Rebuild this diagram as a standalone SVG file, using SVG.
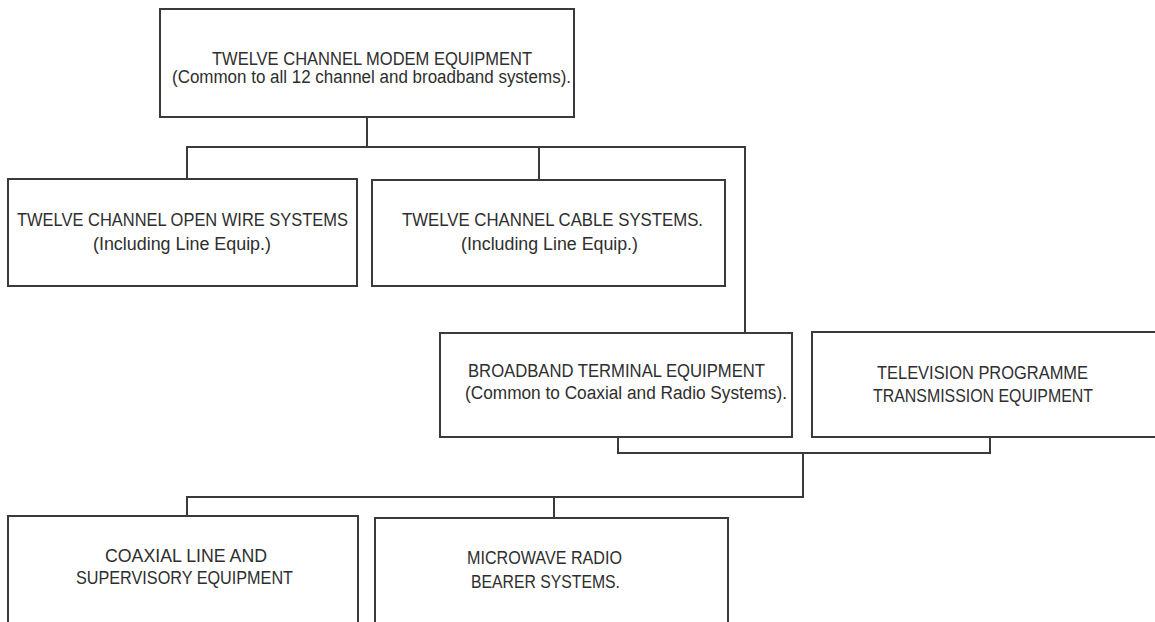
<svg xmlns="http://www.w3.org/2000/svg" width="1155" height="622" viewBox="0 0 1155 622">
<style>
.box{fill:none;stroke:#3a3a3a;stroke-width:2}
.con{fill:none;stroke:#3a3a3a;stroke-width:2}
text{font-family:"Liberation Sans",Arial,sans-serif;font-size:18px;fill:#2e2e2e}
</style>
<rect width="1155" height="622" fill="#ffffff"/>
<g id="connectors">
<path class="con" d="M367 117V147"/>
<path class="con" d="M187 179V147H745V333"/>
<path class="con" d="M539 147V180"/>
<path class="con" d="M618 437V453H990V437"/>
<path class="con" d="M803 453V497H187V516"/>
<path class="con" d="M554 497V518"/>
</g>
<g id="modem">
<rect class="box" x="160" y="9" width="414" height="108"/>
<text x="212" y="65" textLength="320" lengthAdjust="spacingAndGlyphs">TWELVE CHANNEL MODEM EQUIPMENT</text>
<text x="172" y="83" textLength="399" lengthAdjust="spacingAndGlyphs">(Common to all 12 channel and broadband systems).</text>
</g>
<g id="openwire">
<rect class="box" x="8" y="179" width="349" height="107"/>
<text x="17" y="226" textLength="331" lengthAdjust="spacingAndGlyphs">TWELVE CHANNEL OPEN WIRE SYSTEMS</text>
<text x="93" y="250" textLength="178" lengthAdjust="spacingAndGlyphs">(Including Line Equip.)</text>
</g>
<g id="cable">
<rect class="box" x="372" y="180" width="353" height="106"/>
<text x="402" y="226" textLength="301" lengthAdjust="spacingAndGlyphs">TWELVE CHANNEL CABLE SYSTEMS.</text>
<text x="461" y="250" textLength="177" lengthAdjust="spacingAndGlyphs">(Including Line Equip.)</text>
</g>
<g id="broadband">
<rect class="box" x="440" y="333" width="352" height="104"/>
<text x="468" y="377" textLength="297" lengthAdjust="spacingAndGlyphs">BROADBAND TERMINAL EQUIPMENT</text>
<text x="465" y="399" textLength="322" lengthAdjust="spacingAndGlyphs">(Common to Coaxial and Radio Systems).</text>
</g>
<g id="television">
<rect class="box" x="812" y="332" width="360" height="105"/>
<text x="877" y="379" textLength="211" lengthAdjust="spacingAndGlyphs">TELEVISION PROGRAMME</text>
<text x="873" y="402" textLength="220" lengthAdjust="spacingAndGlyphs">TRANSMISSION EQUIPMENT</text>
</g>
<g id="coaxial">
<rect class="box" x="8" y="516" width="350" height="120"/>
<text x="105" y="562" textLength="162" lengthAdjust="spacingAndGlyphs">COAXIAL LINE AND</text>
<text x="76" y="584" textLength="217" lengthAdjust="spacingAndGlyphs">SUPERVISORY EQUIPMENT</text>
</g>
<g id="microwave">
<rect class="box" x="375" y="518" width="353" height="118"/>
<text x="467" y="564" textLength="155" lengthAdjust="spacingAndGlyphs">MICROWAVE RADIO</text>
<text x="471" y="588" textLength="149" lengthAdjust="spacingAndGlyphs">BEARER SYSTEMS.</text>
</g>
</svg>
